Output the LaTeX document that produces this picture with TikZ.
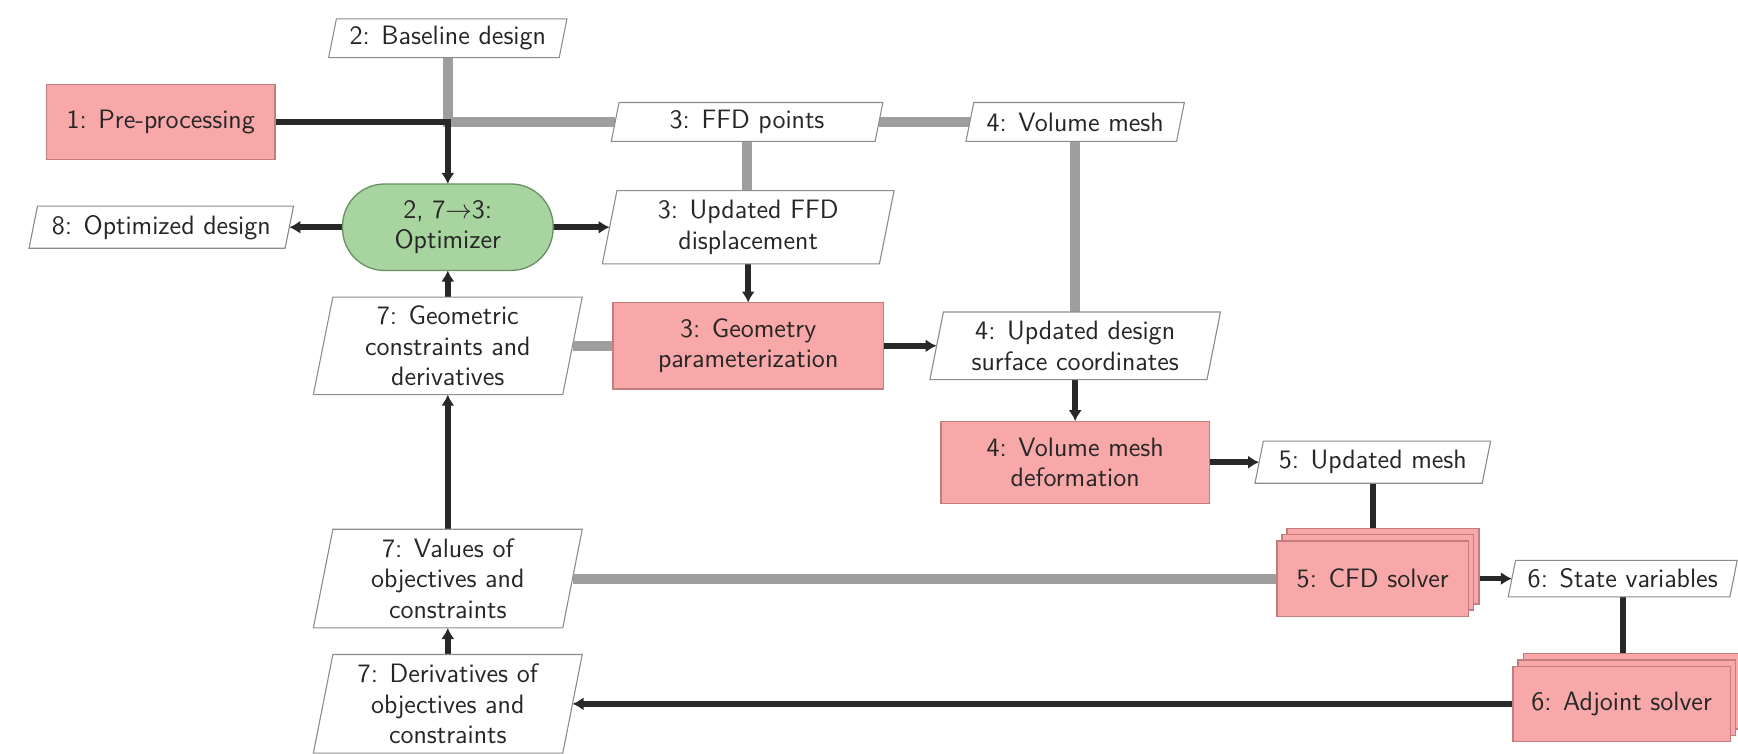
\documentclass[tikz,border=0pt]{standalone}
\usetikzlibrary{arrows.meta,shadows}
\pgfdeclarelayer{lines}
\pgfdeclarelayer{shapes}
\pgfsetlayers{lines,shapes,main}
\definecolor{fnfill}{RGB}{248,168,168}
\definecolor{fndraw}{RGB}{195,125,125}
\definecolor{optfill}{RGB}{168,212,160}
\definecolor{optdraw}{RGB}{105,145,100}
\definecolor{datagray}{RGB}{158,158,158}
\definecolor{procblack}{RGB}{40,40,40}
\definecolor{paradraw}{RGB}{140,140,140}
\definecolor{txt}{RGB}{38,38,38}
\tikzset{
  every node/.style={font=\sffamily\fontsize{12}{13.8}\selectfont, text=txt, inner sep=0pt, outer sep=0pt, align=center},
  func/.style={rectangle, draw=fndraw, fill=fnfill, line width=0.6pt},
  stackfunc/.style={func,
    copy shadow={shadow xshift=4.6pt, shadow yshift=5.6pt, fill=fnfill, draw=fndraw, line width=0.6pt},
    copy shadow={shadow xshift=2.3pt, shadow yshift=2.8pt, fill=fnfill, draw=fndraw, line width=0.6pt}},
  optim/.style={rectangle, rounded corners=19pt, draw=optdraw, fill=optfill, line width=0.6pt},
  datab/.style={rectangle, draw=none, fill=none},
  parashape/.style={draw=paradraw, fill=white, line width=0.5pt},
  dataline/.style={draw=datagray, line width=4.6pt},
  procline/.style={draw=procblack, line width=2.5pt},
  procarrow/.style={procline, -{Latex[length=5pt,width=6pt]}},
}
\newcommand{\parabox}[2]{\draw[parashape] ([xshift=#2]#1.north west) -- ([xshift=#2]#1.north east) -- ([xshift=-#2]#1.south east) -- ([xshift=-#2]#1.south west) -- cycle;}
\begin{document}
\begin{tikzpicture}[x=0.5pt,y=-0.5pt]
\useasboundingbox (0,0) rectangle (1568,680);

% column 1
\node[func, minimum width=103pt, minimum height=34pt] (pre) at (145,110) {1: Pre-processing};
\node[datab, minimum width=115.5pt, minimum height=19pt] (od) at (145.5,205) {8: Optimized design};
% column 2
\node[datab, minimum width=104pt, minimum height=17.5pt] (bd) at (404,34.5) {2: Baseline design};
\node[optim, minimum width=95pt, minimum height=39pt] (opt) at (404,205) {2, 7$\rightarrow$3:\\Optimizer};
\node[datab, minimum width=112.5pt, minimum height=44pt] (gc) at (404,312) {7: Geometric\\constraints and\\derivatives};
\node[datab, minimum width=112.5pt, minimum height=44.5pt] (vo) at (404,522) {7: Values of\\objectives and\\constraints};
\node[datab, minimum width=112.5pt, minimum height=44.5pt] (dv) at (404,635) {7: Derivatives of\\objectives and\\constraints};
% column 3
\node[datab, minimum width=119pt, minimum height=17.5pt] (ffd) at (674,110) {3: FFD points};
\node[datab, minimum width=125pt, minimum height=33pt] (ufd) at (675,205) {3: Updated FFD\\displacement};
\node[func, minimum width=122pt, minimum height=39pt] (gp) at (675,312) {3: Geometry\\parameterization};
% column 4
\node[datab, minimum width=95pt, minimum height=17.5pt] (vm) at (970,110) {4: Volume mesh};
\node[datab, minimum width=125pt, minimum height=30.5pt] (uds) at (970,312) {4: Updated design\\surface coordinates};
\node[func, minimum width=121pt, minimum height=37pt] (vmd) at (970,417) {4: Volume mesh\\deformation};
% column 5
\node[datab, minimum width=102.5pt, minimum height=19pt] (um) at (1238.5,417) {5: Updated mesh};
\node[stackfunc, minimum width=86.5pt, minimum height=34pt] (cfd) at (1238.5,522) {5: CFD solver};
% column 6
\node[datab, minimum width=100pt, minimum height=16.5pt] (sv) at (1464,522) {6: State variables};
\node[stackfunc, minimum width=98pt, minimum height=34pt] (adj) at (1463,635) {6: Adjoint solver};

\begin{pgfonlayer}{shapes}
\parabox{od}{1.9pt}
\parabox{bd}{1.75pt}
\parabox{gc}{4.4pt}
\parabox{vo}{4.4pt}
\parabox{dv}{4.4pt}
\parabox{ffd}{1.75pt}
\parabox{ufd}{3.3pt}
\parabox{vm}{1.75pt}
\parabox{uds}{3.05pt}
\parabox{um}{1.9pt}
\parabox{sv}{1.65pt}
\end{pgfonlayer}

\begin{pgfonlayer}{lines}
% data connections
\draw[dataline] (bd.south) |- (ffd.west);
\draw[dataline] (ffd.east) -- (vm.west);
\draw[dataline] (ffd.south) -- (ffd.south |- ufd.north);
\draw[dataline] (vm.south) -- (vm.south |- uds.north);
\draw[dataline] (gc.east) -- (gp.west);
\draw[dataline] (vo.east) -- (cfd.west);
% process connections
\draw[procarrow] (pre.east) -| (opt.north);
\draw[procarrow] (opt.west) -- (od.east);
\draw[procarrow] (opt.east) -- (ufd.west);
\draw[procarrow] (ufd.south) -- (ufd.south |- gp.north);
\draw[procarrow] (gp.east) -- (uds.west);
\draw[procarrow] (uds.south) -- (vmd.north);
\draw[procarrow] (vmd.east) -- (um.west);
\draw[procline] (um.south) -- (cfd.north);
\draw[procarrow] (cfd.east) -- (sv.west);
\draw[procline] (sv.south) -- (sv.south |- adj.north);
\draw[procarrow] (adj.west) -- (dv.east);
\draw[procarrow] (dv.north) -- (vo.south);
\draw[procarrow] (vo.north) -- (gc.south);
\draw[procarrow] (gc.north) -- (opt.south);
\end{pgfonlayer}
\end{tikzpicture}
\end{document}
